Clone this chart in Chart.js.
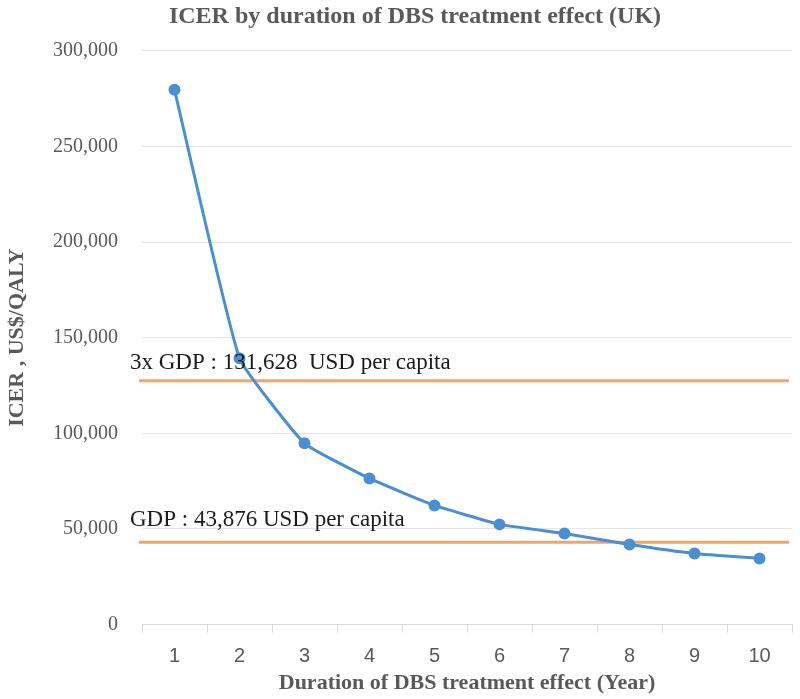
<!DOCTYPE html>
<html>
<head>
<meta charset="utf-8">
<script src="https://cdn.jsdelivr.net/npm/chart.js@4"></script>
<style>
  html, body { margin: 0; padding: 0; background: #fff; }
  #chart { display: block; }
</style>
</head>
<body>
<canvas id="chart" width="800" height="699"></canvas>
<script>
// данные
const years = ["1", "2", "3", "4", "5", "6", "7", "8", "9", "10"]
const icer = [279600, 139300, 94800, 76400, 62300, 52400, 47600, 41900, 37200, 34600]

// пороговые линии (уровень линии как нарисован, подпись как в оригинале)
const thresholdValues = [127500, 43000]
const thresholdLabels = ["3x GDP : 131,628  USD per capita", "GDP : 43,876 USD per capita"]

const SERIF = "'Liberation Serif', 'Times New Roman', serif"

/**
 * горизонтальные оранжевые линии + подписи над ними
 */
const thresholdPlugin = {
    id: "thresholds",
    beforeDatasetsDraw(chart) {
        const { ctx, chartArea, scales } = chart
        ctx.save()
        ctx.strokeStyle = "#F2A46E"
        ctx.lineWidth = 3
        thresholdValues.forEach(v => {
            const y = scales.y.getPixelForValue(v)
            ctx.beginPath()
            ctx.moveTo(chartArea.left - 3, y)
            ctx.lineTo(chartArea.right - 3, y)
            ctx.stroke()
        })
        ctx.restore()
    },
    afterDatasetsDraw(chart) {
        const { ctx, chartArea, scales } = chart
        ctx.save()
        ctx.fillStyle = "#1a1a1a"
        ctx.font = `23px ${SERIF}`
        ctx.textAlign = "left"
        ctx.textBaseline = "alphabetic"
        const offsets = [12, 16]
        thresholdValues.forEach((v, i) => {
            const y = scales.y.getPixelForValue(v)
            ctx.fillText(thresholdLabels[i], chartArea.left - 12, y - offsets[i])
        })
        ctx.restore()
    }
}

new Chart(document.getElementById("chart"), {
    type: "line",
    data: {
        labels: years,
        datasets: [
            {
                label: "ICER",
                data: icer,
                borderColor: "#4A8FD6",
                backgroundColor: "#4A8FD6",
                borderWidth: 3,
                pointRadius: 4.5,
                pointHoverRadius: 4.5,
                tension: 0.12,
                fill: false
            }
        ]
    },
    options: {
        responsive: false,
        animation: false,
        events: [],
        // слева отступ, чтобы заголовок центрировался как в оригинале
        layout: { padding: { left: 38, right: 8, top: 0, bottom: 0 } },
        plugins: {
            legend: { display: false },
            tooltip: { enabled: false },
            title: {
                display: true,
                text: "ICER by duration of DBS treatment effect (UK)",
                color: "#595959",
                font: { family: SERIF, size: 24, weight: "bold" },
                padding: { top: 2, bottom: 20 }
            }
        },
        scales: {
            x: {
                offset: true,
                grid: {
                    offset: true,
                    drawOnChartArea: false,
                    drawTicks: true,
                    tickLength: 8,
                    color: "#D9D9D9"
                },
                border: { display: true, color: "#D9D9D9", width: 1 },
                ticks: {
                    color: "#595959",
                    padding: 12,
                    font: { family: "'Liberation Sans', Arial, sans-serif", size: 20 }
                },
                title: {
                    display: true,
                    text: "Duration of DBS treatment effect (Year)",
                    color: "#595959",
                    font: { family: SERIF, size: 22, weight: "bold" },
                    padding: { top: -10, bottom: 2 }
                }
            },
            y: {
                min: 0,
                max: 300000,
                afterFit: (scale) => { scale.width = 104 },
                grid: { color: "#E6E6E6", drawTicks: false },
                border: { display: false },
                ticks: {
                    stepSize: 50000,
                    color: "#595959",
                    padding: 24,
                    font: { family: SERIF, size: 20 },
                    callback: (v) => v.toLocaleString("en-US")
                },
                title: {
                    display: true,
                    text: "ICER , US$/QALY",
                    color: "#595959",
                    font: { family: SERIF, size: 22, weight: "bold" },
                    padding: { top: -34, bottom: 0 }
                }
            }
        }
    },
    plugins: [thresholdPlugin]
})
</script>
</body>
</html>
